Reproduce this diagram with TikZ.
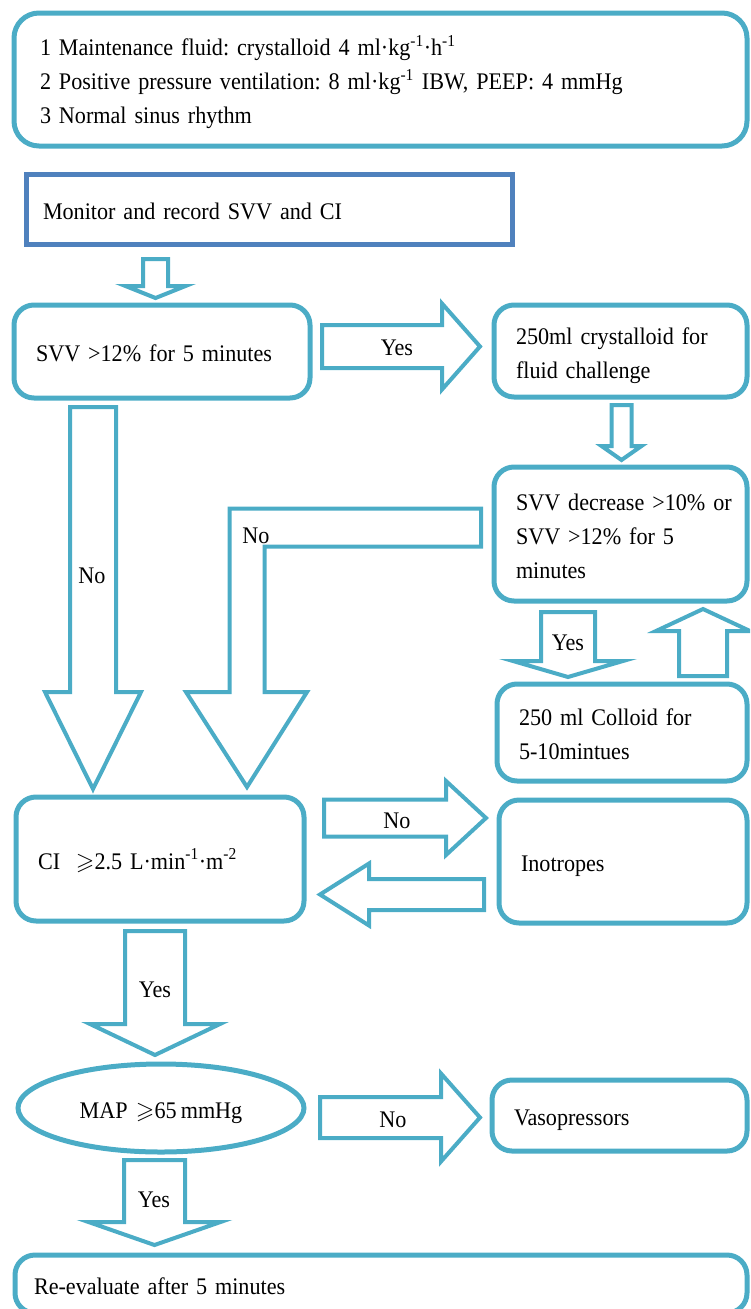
\documentclass[tikz,border=0pt]{standalone}
\usepackage{amssymb}
\usepackage{fontspec}
\setmainfont[FakeStretch=0.93, WordSpace=0.75]{Liberation Serif}
\usepackage{tikz}
\usetikzlibrary{shapes.geometric}

\definecolor{aqua}{RGB}{75,172,198}
\definecolor{steel}{RGB}{79,129,189}

% block arrows: centre, tail, base of head, tip, half shaft, half head
\newcommand{\vblk}[6]{%
  \draw[blk] ({#1-#5},#2) -- ({#1+#5},#2) -- ({#1+#5},#3) -- ({#1+#6},#3) -- (#1,#4)
    -- ({#1-#6},#3) -- ({#1-#5},#3) -- cycle;}
\newcommand{\hblk}[6]{%
  \draw[blk] (#2,{#1-#5}) -- (#3,{#1-#5}) -- (#3,{#1-#6}) -- (#4,#1) -- (#3,{#1+#6})
    -- (#3,{#1+#5}) -- (#2,{#1+#5}) -- cycle;}

\tikzset{
  every node/.style={font=\frenchspacing\fontsize{23.8}{34}\selectfont, outer sep=0pt},
  struts/.style={execute at begin node={\rule{0pt}{26pt}},
    execute at end node={\rule[-6pt]{0pt}{0pt}}},
  rbox/.style={draw=aqua, line width=5pt, rounded corners=20pt, align=left, struts,
    anchor=north west, inner xsep=22pt, inner ysep=0pt},
  sbox/.style={draw=steel, line width=5pt, align=left, struts, anchor=north west,
    inner xsep=17pt, inner ysep=0pt},
  blk/.style={draw=aqua, line width=4pt, fill=white},
  lbl/.style={anchor=base, inner sep=0pt}
}

\begin{document}
\begin{tikzpicture}[x=1pt,y=-1pt]
  \path[use as bounding box, clip] (0,0) rectangle (750,1309);

  % Nodes
  \node[rbox, rounded corners=25pt, inner xsep=26pt, minimum width=733pt, minimum height=133pt,
    text width=681pt] (cond) at (14,13)
    {1 Maintenance fluid: crystalloid 4 ml·kg\textsuperscript{-1}·h\textsuperscript{-1}\\
     2 Positive pressure ventilation: 8 ml·kg\textsuperscript{-1} IBW, PEEP: 4 mmHg\\
     3 Normal sinus rhythm};
  \node[sbox, minimum width=486pt, minimum height=70pt, text width=452pt] (mon) at (26,174)
    {Monitor and record SVV and CI};
  \node[rbox, minimum width=296pt, minimum height=93pt, text width=252pt] (svv) at (14,305)
    {SVV >12\% for 5 minutes};
  \node[rbox, minimum width=253pt, minimum height=92pt, text width=209pt] (cryst) at (494,305)
    {\mbox{250ml crystalloid for}\\fluid challenge};
  \node[rbox, minimum width=253pt, minimum height=134pt, text width=209pt] (dec) at (494,467)
    {\mbox{SVV decrease >10\% or}\\SVV >12\% for 5\\minutes};
  \node[rbox, minimum width=250pt, minimum height=97pt, text width=206pt] (coll) at (497,684)
    {250 ml Colloid for\\5-10mintues};
  \node[rbox, minimum width=288pt, minimum height=124pt, text width=244pt] (ci) at (16,797)
    {CI\ \ $\geqslant$2.5 L·min\textsuperscript{-1}·m\textsuperscript{-2}};
  \node[rbox, minimum width=248pt, minimum height=123pt, text width=204pt] (ino) at (499,800)
    {Inotropes};
  \node[ellipse, draw=aqua, line width=5pt, struts, minimum width=286pt, minimum height=88pt]
    (map) at (161,1108) {MAP\ \ $\geqslant$65 mmHg};
  \node[rbox, minimum width=255pt, minimum height=71pt, text width=211pt] (vaso) at (492,1080)
    {Vasopressors};
  \node[rbox, inner xsep=19pt, minimum width=732pt, minimum height=58pt, text width=694pt]
    (reeval) at (15,1255) {Re-evaluate after 5 minutes};

  % Arrows
  \vblk{155.5}{259}{286}{298}{12.5}{30}
  \hblk{346.5}{322}{442}{480}{21.5}{43}
  \vblk{621.5}{405}{446}{460}{10}{20}
  \vblk{568}{612}{661}{677}{27}{55}
  \vblk{703}{676}{631}{609}{24}{47}
  \vblk{93}{407}{692}{789}{23}{48}
  \draw[blk] (481,508.5) -- (229.5,508.5) -- (229.5,692) -- (186,692) -- (247,787)
    -- (307,692) -- (264.5,692) -- (264.5,546.5) -- (481,546.5) -- cycle;
  \hblk{818}{324}{446}{486}{18.5}{37}
  \hblk{894.5}{484}{369}{320}{15.5}{31}
  \vblk{155}{931}{1024}{1055}{30}{65}
  \hblk{1117.5}{320}{441}{480}{20.5}{44}
  \vblk{154.5}{1160}{1222}{1245}{30.5}{66}

  % Labels
  \node[lbl] (yes1) at (397,355) {Yes};
  \node[lbl] (no1) at (92,583) {No};
  \node[lbl] (no2) at (256,543) {No};
  \node[lbl] (yes2) at (568,650) {Yes};
  \node[lbl] (no3) at (397,828) {No};
  \node[lbl] (yes3) at (155,997) {Yes};
  \node[lbl] (no4) at (393,1127) {No};
  \node[lbl] (yes4) at (154,1207) {Yes};
\end{tikzpicture}
\end{document}
